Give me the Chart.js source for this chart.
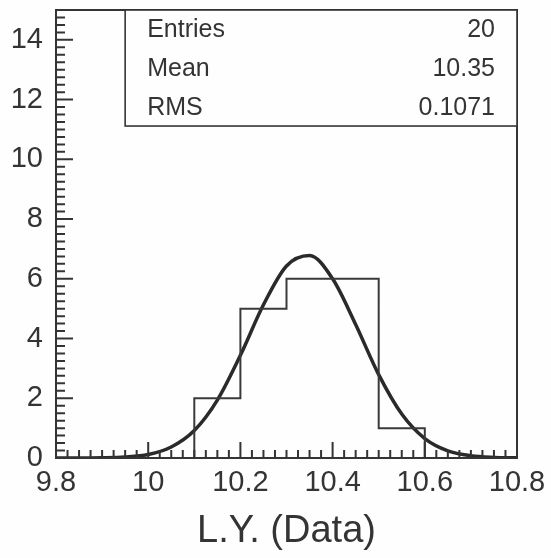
<!DOCTYPE html>
<html>
<head>
<meta charset="utf-8">
<script src="https://cdn.jsdelivr.net/npm/chart.js@4/dist/chart.umd.min.js"></script>
<style>
  html, body { margin: 0; padding: 0; background: #fefefe; }
  canvas { display: block; }
</style>
</head>
<body>
<canvas id="hist" width="551" height="558"></canvas>
<script>
// histogram bins (low edges, width 0.1) and contents
const binLow = [9.8, 9.9, 10.0, 10.1, 10.2, 10.3, 10.4, 10.5, 10.6, 10.7];
const binCounts = [0, 0, 0, 2, 5, 6, 6, 1, 0, 0];
const xMin = 9.8, xMax = 10.8;
const yMax = 15;

// gaussian fit curve sampled along x
const fitX = [9.8, 9.85, 9.9, 9.95, 10.0, 10.05, 10.1, 10.15, 10.2, 10.25, 10.3,
              10.35, 10.4, 10.45, 10.5, 10.55, 10.6, 10.65, 10.7, 10.75, 10.8];
const fitY = [0.0, 0.002, 0.008, 0.035, 0.12, 0.37, 0.92, 1.94, 3.44, 5.13, 6.43,
              6.78, 6.0, 4.47, 2.79, 1.47, 0.65, 0.24, 0.075, 0.02, 0.005];

// stats box rows
const statNames = ['Entries', 'Mean', 'RMS'];
const statValues = ['20', '10.35', '0.1071'];

const ink = '#343434';
const FONT = '"Liberation Sans", Arial, Helvetica, sans-serif';

// one point per bin's high edge: rise at the low edge, flat across the bin
const histPoints = [{ x: xMin, y: 0 }];
binLow.forEach((x, i) => histPoints.push({ x: x + 0.1, y: binCounts[i] }));
const fitPoints = fitX.map((x, i) => ({ x: x, y: fitY[i] }));

// frame, inward tick marks and the stats box
const framePlugin = {
  id: 'frame',
  afterDraw(chart) {
    const { ctx, chartArea: a, scales } = chart;
    const xs = scales.x, ys = scales.y;
    ctx.save();
    ctx.strokeStyle = ink;
    ctx.lineWidth = 2;
    ctx.beginPath();
    for (let k = 0; k <= 40; k++) {
      const px = xs.getPixelForValue(xMin + k * 0.025);
      const len = k % 8 === 0 ? 16 : 8;
      ctx.moveTo(px, a.bottom);
      ctx.lineTo(px, a.bottom - len);
    }
    for (let k = 0; k <= 60; k++) {
      const py = ys.getPixelForValue(k * 0.25);
      const len = k % 8 === 0 ? 17 : 9;
      ctx.moveTo(a.left, py);
      ctx.lineTo(a.left + len, py);
    }
    ctx.stroke();
    ctx.strokeRect(a.left, a.top, a.right - a.left, a.bottom - a.top);

    // stats box
    const w = a.right - a.left, h = a.bottom - a.top;
    const bx = a.left + 0.15 * w, by = a.top;
    const bw = a.right - bx, bh = 0.259 * h;
    ctx.fillStyle = '#fefefe';
    ctx.fillRect(bx, by, bw, bh);
    ctx.lineWidth = 1.6;
    ctx.strokeRect(bx, by, bw, bh);
    ctx.fillStyle = ink;
    ctx.font = '25px ' + FONT;
    ctx.textBaseline = 'middle';
    const rowH = bh / statNames.length;
    statNames.forEach((name, i) => {
      const ty = by + rowH * (i + 0.5) + 1;
      ctx.textAlign = 'left';
      ctx.fillText(name, bx + 22, ty);
      ctx.textAlign = 'right';
      ctx.fillText(statValues[i], a.right - 22, ty);
    });
    ctx.restore();
  }
};

new Chart(document.getElementById('hist'), {
  type: 'line',
  data: {
    datasets: [
      {
        label: 'L.Y.',
        data: histPoints,
        stepped: 'after',
        borderColor: '#3a3a3a',
        borderWidth: 2,
        pointRadius: 0,
        fill: false
      },
      {
        label: 'gaus',
        data: fitPoints,
        cubicInterpolationMode: 'monotone',
        borderColor: '#2a2a2a',
        borderWidth: 3.5,
        pointRadius: 0,
        fill: false
      }
    ]
  },
  options: {
    responsive: false,
    animation: false,
    layout: { padding: { top: 10, right: 34, left: 0, bottom: 0 } },
    plugins: {
      legend: { display: false },
      tooltip: { enabled: false }
    },
    scales: {
      x: {
        type: 'linear',
        min: xMin,
        max: xMax,
        grid: { display: false, drawTicks: false },
        border: { display: false },
        ticks: {
          stepSize: 0.2,
          padding: 8,
          color: ink,
          font: { family: FONT, size: 29 },
          maxRotation: 0,
          callback: v => String(Math.round(v * 10) / 10)
        },
        title: {
          display: true,
          text: 'L.Y. (Data)',
          color: ink,
          font: { family: FONT, size: 38 },
          padding: { top: 0, bottom: 4 }
        },
        afterFit: s => {
          s.height = 100;
          s.paddingLeft = 0;
          s.paddingRight = 0;
        }
      },
      y: {
        min: 0,
        max: yMax,
        grid: { display: false, drawTicks: false },
        border: { display: false },
        ticks: {
          stepSize: 2,
          includeBounds: false,
          padding: 13,
          color: ink,
          font: { family: FONT, size: 29 }
        },
        afterFit: s => {
          s.width = 56;
          s.paddingTop = 0;
          s.paddingBottom = 0;
        }
      }
    }
  },
  plugins: [framePlugin]
});
</script>
</body>
</html>
